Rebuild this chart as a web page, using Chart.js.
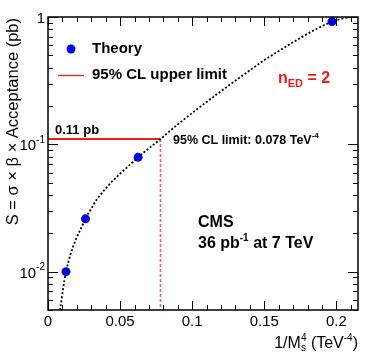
<!DOCTYPE html>
<html>
<head>
<meta charset="utf-8">
<script src="https://cdn.jsdelivr.net/npm/chart.js@4/dist/chart.umd.min.js"></script>
<style>
html,body{margin:0;padding:0;background:#fff;}
#wrap{width:374px;height:357px;position:relative;}
</style>
</head>
<body>
<div id="wrap"><canvas id="c" width="374" height="357"></canvas></div>
<script>
// ---- data ----
const xTickValues = [0, 0.05, 0.1, 0.15, 0.2];
const yTickValues = [1, 0.1, 0.01];
const yTickExponents = [0, -1, -2];
const theoryX = [0.0125, 0.026, 0.0625, 0.197];
const theoryY = [0.0100, 0.026, 0.079, 0.92];
const curveX = [0.0083, 0.0125, 0.026, 0.0302, 0.0337, 0.0625, 0.078, 0.0913, 0.1467, 0.1536, 0.197, 0.209];
const curveY = [0.005, 0.0100, 0.026, 0.0315, 0.0367, 0.079, 0.11, 0.1475, 0.432, 0.487, 0.92, 1.0];
const limitX = 0.078;
const limitY = 0.11;
const xRange = [0, 0.215];
const yRange = [0.005, 1];

const FONT = '"Liberation Sans", Arial, Helvetica, sans-serif';

const toPts = (xs, ys) => xs.map((x, i) => ({x: x, y: ys[i]}));

const decor = {
  id: 'decor',
  afterDraw(chart) {
    const ctx = chart.ctx;
    const a = chart.chartArea;
    const xs = chart.scales.x, ys = chart.scales.y;
    ctx.save();
    // frame
    ctx.strokeStyle = '#000';
    ctx.lineWidth = 1.5;
    ctx.strokeRect(a.left, a.top, a.right - a.left, a.bottom - a.top);
    ctx.lineWidth = 1;
    // x ticks (bottom & top, inside)
    for (let i = 0; i <= 21; i++) {
      const v = i * 0.01;
      if (v > xRange[1]) break;
      const px = Math.round(xs.getPixelForValue(v)) + 0.5;
      const major = (i % 5 === 0);
      const L = major ? 9 : 5;
      ctx.beginPath();
      ctx.moveTo(px, a.bottom); ctx.lineTo(px, a.bottom - L);
      ctx.moveTo(px, a.top); ctx.lineTo(px, a.top + L);
      ctx.stroke();
    }
    // y ticks (left & right, inside)
    for (let d = -3; d <= 0; d++) {
      for (let m = 1; m <= 9; m++) {
        const v = m * Math.pow(10, d);
        if (v < yRange[0] - 1e-12 || v > yRange[1] + 1e-12) continue;
        const py = Math.round(ys.getPixelForValue(v)) + 0.5;
        const L = (m === 1) ? 10 : 5;
        ctx.beginPath();
        ctx.moveTo(a.left, py); ctx.lineTo(a.left + L, py);
        ctx.moveTo(a.right, py); ctx.lineTo(a.right - L, py);
        ctx.stroke();
      }
    }
    // y tick labels
    ctx.fillStyle = '#000';
    ctx.textBaseline = 'middle';
    ctx.textAlign = 'left';
    yTickValues.forEach((v, i) => {
      const py = ys.getPixelForValue(v);
      const e = yTickExponents[i];
      const right = 45;
      if (e === 0) {
        ctx.font = '15px ' + FONT;
        const w = ctx.measureText('1').width;
        ctx.fillText('1', right - w, py + 2);
      } else {
        ctx.font = '10px ' + FONT;
        const sup = String(e);
        const sw = ctx.measureText(sup).width;
        ctx.font = '15px ' + FONT;
        const bw = ctx.measureText('10').width;
        ctx.fillText('10', right - sw - bw, py + 2);
        ctx.font = '10px ' + FONT;
        ctx.fillText(sup, right - sw, py - 4);
      }
    });
    // x axis title: 1/M_s^4 (TeV^-4), right aligned
    {
      const base = 348;
      const parts = [
        {t: '1/M', f: '16px', dy: 0},
        {t: '4', f: '10px', dy: -7, stack: 's'},
        {t: ' (TeV', f: '16px', dy: 0},
        {t: '-4', f: '10px', dy: -7},
        {t: ')', f: '16px', dy: 0}
      ];
      let total = 0;
      parts.forEach(p => { ctx.font = p.f + ' ' + FONT; p.w = ctx.measureText(p.t).width; total += p.w; });
      let x = a.right - total;
      ctx.textBaseline = 'alphabetic';
      parts.forEach(p => {
        ctx.font = p.f + ' ' + FONT;
        ctx.fillText(p.t, x, base + p.dy);
        if (p.stack) ctx.fillText(p.stack, x, base + 3);
        x += p.w;
      });
    }
    // y axis title (rotated)
    {
      ctx.save();
      ctx.translate(18, a.top + 1);
      ctx.rotate(-Math.PI / 2);
      ctx.font = '16.5px ' + FONT;
      ctx.textAlign = 'right';
      ctx.textBaseline = 'alphabetic';
      ctx.fillText('S = \u03c3 \u00d7 \u03b2 \u00d7 Acceptance (pb)', 0, 0);
      ctx.restore();
    }
    // legend
    ctx.textAlign = 'left';
    ctx.textBaseline = 'middle';
    ctx.fillStyle = '#0000ff';
    ctx.beginPath(); ctx.arc(71, 49, 4.5, 0, Math.PI * 2); ctx.fill();
    ctx.fillStyle = '#000';
    ctx.font = 'bold 15px ' + FONT;
    ctx.fillText('Theory', 92, 49);
    ctx.strokeStyle = 'rgb(235,30,30)';
    ctx.lineWidth = 1.3;
    ctx.beginPath(); ctx.moveTo(58, 75.5); ctx.lineTo(84, 75.5); ctx.stroke();
    ctx.fillText('95% CL upper limit', 92, 75);
    // annotations
    ctx.font = 'bold 13px ' + FONT;
    ctx.fillText('0.11 pb', 55, 130);
    {
      const t = '95% CL limit: 0.078 TeV';
      ctx.font = 'bold 12.5px ' + FONT;
      ctx.fillText(t, 173, 141);
      const w = ctx.measureText(t).width;
      ctx.font = 'bold 8px ' + FONT;
      ctx.fillText('-4', 173 + w, 136);
    }
    // n_ED = 2
    {
      ctx.fillStyle = 'rgb(245,25,25)';
      ctx.textBaseline = 'alphabetic';
      ctx.font = 'bold 16px ' + FONT;
      ctx.fillText('n', 278, 83);
      let x = 278 + ctx.measureText('n').width;
      ctx.font = 'bold 11px ' + FONT;
      ctx.fillText('ED', x, 87);
      x += ctx.measureText('ED').width;
      ctx.font = 'bold 16px ' + FONT;
      ctx.fillText(' = 2', x, 83);
    }
    // CMS text
    {
      ctx.fillStyle = '#000';
      ctx.textBaseline = 'alphabetic';
      ctx.font = 'bold 16px ' + FONT;
      ctx.fillText('CMS', 198, 227);
      ctx.fillText('36 pb', 198, 248);
      let x = 198 + ctx.measureText('36 pb').width;
      ctx.font = 'bold 10px ' + FONT;
      ctx.fillText('-1', x, 241);
      x += ctx.measureText('-1').width;
      ctx.font = 'bold 16px ' + FONT;
      ctx.fillText(' at 7 TeV', x, 248);
    }
    ctx.restore();
  }
};

new Chart(document.getElementById('c'), {
  type: 'scatter',
  data: {
    datasets: [
      {
        label: 'fit',
        type: 'line',
        data: toPts(curveX, curveY),
        borderColor: '#000',
        borderWidth: 1.8,
        borderDash: [2, 2],
        pointRadius: 0,
        fill: false,
        cubicInterpolationMode: 'monotone',
        order: 0
      },
      {
        label: 'Theory',
        data: toPts(theoryX, theoryY),
        backgroundColor: '#0000ff',
        borderColor: '#0000ff',
        pointRadius: 4.5,
        pointBorderWidth: 0,
        order: 1
      },
      {
        label: 'limit-h',
        type: 'line',
        data: [{x: xRange[0], y: limitY}, {x: limitX, y: limitY}],
        borderColor: 'rgb(235,30,30)',
        borderWidth: 2,
        pointRadius: 0,
        fill: false,
        order: 2
      },
      {
        label: 'limit-v',
        type: 'line',
        data: [{x: limitX, y: limitY}, {x: limitX, y: yRange[0]}],
        borderColor: 'rgb(255,90,90)',
        borderWidth: 1.6,
        borderDash: [3, 2],
        pointRadius: 0,
        fill: false,
        order: 2
      }
    ]
  },
  options: {
    responsive: false,
    animation: false,
    layout: {padding: {top: 17, right: 16, left: 0, bottom: 0}},
    plugins: {legend: {display: false}, tooltip: {enabled: false}},
    scales: {
      x: {
        type: 'linear',
        min: xRange[0],
        max: xRange[1],
        afterBuildTicks: (s) => { s.ticks = xTickValues.map(v => ({value: v})); },
        afterFit: (s) => { s.height = 47; },
        grid: {display: false, drawTicks: false},
        border: {display: false},
        ticks: {
          color: '#000',
          font: {family: FONT, size: 15},
          padding: 3,
          maxRotation: 0,
          autoSkip: false,
          callback: (v) => String(v)
        }
      },
      y: {
        type: 'logarithmic',
        min: yRange[0],
        max: yRange[1],
        afterFit: (s) => { s.width = 48; },
        grid: {display: false, drawTicks: false},
        border: {display: false},
        ticks: {display: false}
      }
    }
  },
  plugins: [decor]
});
</script>
</body>
</html>
